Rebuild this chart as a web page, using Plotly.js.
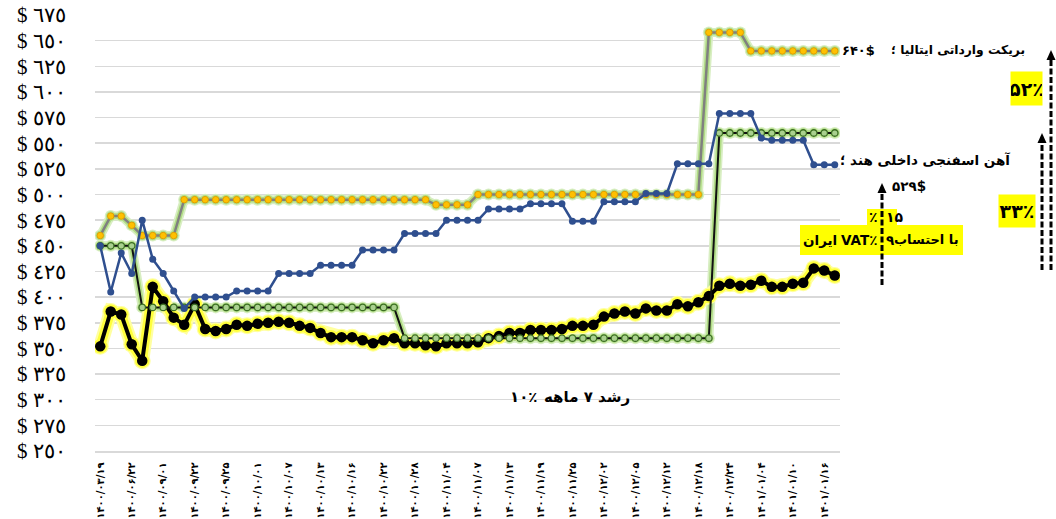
<!DOCTYPE html>
<html><head><meta charset="utf-8">
<script src="https://cdn.plot.ly/plotly-3.0.1.min.js"></script>
<style>html,body{margin:0;padding:0;background:#fff}#chart{width:1056px;height:519px}</style>
</head><body><div id="chart"></div>
<script>
// ---- data ----
const dateLabels = ['۱۴۰۰/۰۳/۱۹','۱۴۰۰/۰۶/۲۲','۱۴۰۰/۰۹/۰۱','۱۴۰۰/۰۹/۲۲','۱۴۰۰/۰۹/۲۵','۱۴۰۰/۱۰/۰۱',
  '۱۴۰۰/۱۰/۰۷','۱۴۰۰/۱۰/۱۳','۱۴۰۰/۱۰/۱۶','۱۴۰۰/۱۰/۲۲','۱۴۰۰/۱۰/۲۸','۱۴۰۰/۱۱/۰۴',
  '۱۴۰۰/۱۱/۰۷','۱۴۰۰/۱۱/۱۳','۱۴۰۰/۱۱/۱۹','۱۴۰۰/۱۱/۲۵','۱۴۰۰/۱۲/۰۲','۱۴۰۰/۱۲/۰۵',
  '۱۴۰۰/۱۲/۱۲','۱۴۰۰/۱۲/۱۸','۱۴۰۰/۱۲/۲۴','۱۴۰۱/۰۱/۰۴','۱۴۰۱/۰۱/۱۰','۱۴۰۱/۰۱/۱۶'];

const italyBillet = [460,479,479,470,460,460,460,460,
  495,495,495,495,495,495,495,495,495,495,495,495,495,495,495,495,495,495,495,495,495,495,495,495,
  490,490,490,490,
  500,500,500,500,500,500,500,500,500,500,500,500,500,500,500,500,500,500,500,500,500,500,
  658,658,658,658,
  640,640,640,640,640,640,640,640,640];

const indiaSponge = [450,405,443,423,475,437,423,406,389,
  400,400,400,400, 406,406,406,406, 423,423,423,423, 431,431,431,431, 446,446,446,446,
  462,462,462,462, 475,475,475,475, 486,486,486,486, 491,491,491,491, 474,474,474,
  493,493,493,493, 501,501,501, 530,530,530,530, 579,579,579,579, 555,553,553,553,553,
  529,529,529];

const billetSeries = [450,450,450,450,
  390,390,390,390,390,390,390,390,390,390,390,390,390,390,390,390,390,390,390,390,390,390,390,390,390,
  360,360,360,360,360,360,360,360,360,360,360,360,360,360,360,360,360,360,360,360,360,360,360,360,360,360,360,360,360,360,
  560,560,560,560,560,560,560,560,560,560,560,560];

const iranSponge = [352,386,383,354,338,410,396,380,373,393,369,367,369,373,372,374,375,376,375,372,
  370,365,361,361,361,358,355,358,360,355,355,353,352,355,355,355,356,360,362,365,
  365,368,368,368,369,372,372,373,381,384,386,384,389,387,387,393,391,395,401,411,
  413,411,412,416,410,410,413,414,428,426,421];

const yTickValues = [250,275,300,325,350,375,400,425,450,475,500,525,550,575,600,625,650,675];
const yTickLabels = ['$ ٢٥٠','$ ٢٧٥','$ ٣٠٠','$ ٣٢٥','$ ٣٥٠','$ ٣٧٥','$ ٤٠٠','$ ٤٢٥','$ ٤٥٠',
  '$ ٤٧٥','$ ٥٠٠','$ ٥٢٥','$ ٥٥٠','$ ٥٧٥','$ ٦٠٠','$ ٦٢٥','$ ٦٥٠','$ ٦٧٥'];

// ---- build ----
const xs = iranSponge.map((_, i) => i);
const tickIdx = dateLabels.map((_, k) => k * 3);

function glow(y, color, lw, ms) {
  return {x: xs, y: y, mode: 'lines+markers', line: {color: color, width: lw},
          marker: {size: ms, color: color}, hoverinfo: 'skip', showlegend: false};
}

const traces = [
  glow(italyBillet, '#d8eec2', 9, 12),
  glow(italyBillet, '#b0dc85', 5.5, 9.5),
  glow(billetSeries, '#d8eec2', 9, 12),
  glow(billetSeries, '#b0dc85', 5.5, 9.5),
  glow(iranSponge, '#ffffa0', 14, 17),
  glow(iranSponge, '#ffff3c', 9.5, 14.5),
  {x: xs, y: iranSponge, mode: 'lines+markers', line: {color: '#000', width: 4},
   marker: {size: 10.5, color: '#000'}, showlegend: false},
  {x: xs, y: billetSeries, mode: 'lines+markers', line: {color: '#111', width: 2},
   marker: {size: 6.5, color: '#a9d08e', line: {color: '#3b6e22', width: 1.3}}, showlegend: false},
  {x: xs, y: italyBillet, mode: 'lines+markers', line: {color: '#808080', width: 2.5},
   marker: {size: 6.5, color: '#ffc000', line: {color: '#e0a000', width: 1}}, showlegend: false},
  {x: xs, y: indiaSponge, mode: 'lines+markers', line: {color: '#2f4f8f', width: 2.5},
   marker: {size: 7, color: '#2f4f8f'}, showlegend: false}
];

const X0 = 95, W = 745, YB = 451, H = 436;
const px = v => (v - X0) / W;
const py = v => (YB - v) / H;

function box(x0, x1, y0, y1) {
  return {type: 'rect', xref: 'paper', yref: 'paper', x0: px(x0), x1: px(x1), y0: py(y1), y1: py(y0),
          fillcolor: '#ffff00', line: {width: 0}};
}
function dashed(xp, yBottom, yTop) {
  return {type: 'line', xref: 'paper', yref: 'paper', x0: px(xp), x1: px(xp),
          y0: py(yBottom), y1: py(yTop + 9), line: {color: '#000', width: 3, dash: '6px,2.5px'}};
}
function head(xp, yTop) {
  const a = px(xp - 4.5), b = px(xp + 4.5), c = px(xp), yb = py(yTop + 10), yt = py(yTop);
  return {type: 'path', xref: 'paper', yref: 'paper',
          path: `M ${a},${yb} L ${b},${yb} L ${c},${yt} Z`, fillcolor: '#000', line: {width: 0}};
}

const shapes = [
  box(867, 897, 209, 225), box(800, 963, 225, 255),
  dashed(882, 285, 183), head(882, 183),
  dashed(1042, 270, 133), head(1042, 133),
  dashed(1051, 270, 50), head(1051, 50)
];

const FA = 'DejaVu Sans';
function txt(text, x, y, anchor, size, extra) {
  return Object.assign({xref: 'paper', yref: 'paper', x: px(x), y: py(y), xanchor: anchor, yanchor: 'middle',
    showarrow: false, text: text, font: {family: FA, size: size, color: '#000', weight: 'bold'}}, extra || {});
}

const annotations = [
  txt('۶۴۰$', 840, 50, 'left', 13),
  txt('بریکت وارداتی ایتالیا ؛', 1027, 50, 'right', 12.3),
  txt('آهن اسفنجی داخلی هند ؛', 838, 160, 'left', 13.5),
  txt('۵۲۹$', 890, 186, 'left', 13.5),
  txt('٪', 880, 217, 'right', 14),
  txt('۱۵', 884, 217, 'left', 14),
  txt('ایران', 820, 240, 'center', 13.5),
  txt('VAT٪', 879, 240, 'right', 13.5),
  txt('۹', 884, 240, 'left', 13.5),
  txt('با احتساب', 961, 240, 'right', 13),
  txt('۵۲٪', 1026.5, 88.5, 'center', 19, {bgcolor: '#ffff00', borderpad: 0, width: 31, height: 33}),
  txt('۳۳٪', 1017, 211, 'center', 19, {bgcolor: '#ffff00', borderpad: 0, width: 36, height: 32}),
  txt('۱۰٪', 508, 397, 'left', 15),
  txt('رشد ۷ ماهه', 632, 397, 'right', 15)
];

const layout = {
  width: 1056, height: 519,
  margin: {l: X0, r: 1056 - X0 - W, t: 15, b: 519 - YB},
  paper_bgcolor: '#fff', plot_bgcolor: '#fff',
  showlegend: false,
  xaxis: {range: [-0.5, 70.5], tickmode: 'array', tickvals: tickIdx, ticktext: dateLabels,
          tickangle: -90, tickfont: {family: FA, size: 10, color: '#000', weight: 'bold'},
          showgrid: false, zeroline: false, showline: true, linecolor: '#d9d9d9', linewidth: 1.5,
          ticks: 'outside', ticklen: 6, tickcolor: 'rgba(0,0,0,0)'},
  yaxis: {range: [250, 675], tickmode: 'array', tickvals: yTickValues, ticktext: yTickLabels,
          tickfont: {family: 'Liberation Serif, DejaVu Serif, serif', size: 21, color: '#000'},
          gridcolor: '#d9d9d9', gridwidth: 1.5, zeroline: false, showline: false,
          ticks: 'outside', ticklen: 24, tickcolor: 'rgba(0,0,0,0)'},
  shapes: shapes,
  annotations: annotations
};

Plotly.newPlot('chart', traces, layout, {staticPlot: true, displayModeBar: false});
</script>
</body></html>
